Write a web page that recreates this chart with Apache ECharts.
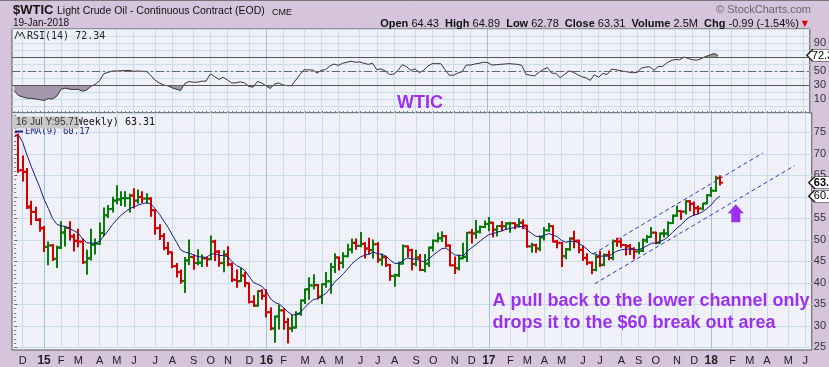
<!DOCTYPE html>
<html><head><meta charset="utf-8">
<script src="https://cdn.jsdelivr.net/npm/echarts@6/dist/echarts.min.js"></script>
<style>html,body{margin:0;padding:0;background:#d5c4db;}#c{width:829px;height:367px;}</style>
</head><body><div id="c"></div>
<script>
// Weekly bars, index 1 = week ending 28-Nov-2014, index 165 = week ending 19-Jan-2018
const opens = [74.3,66.2,65.8,57.5,56.5,54.6,52.7,48.4,48.7,45.6,
48.2,51.7,52.8,50.8,49.8,49.6,44.8,45.7,48.9,49.1,
51.6,55.7,57.2,59.1,59.4,59.7,59.7,60.3,59.1,60.0,
59.6,59.6,56.9,52.7,50.9,48.1,47.1,43.9,42.5,40.4,
45.2,46.0,44.6,44.7,45.7,45.5,49.6,47.3,44.6,46.6,
44.3,40.7,40.4,41.7,39.9,35.6,34.7,38.1,37.0,33.2,
29.4,32.2,33.6,30.9,29.4,29.6,32.8,35.9,38.5,39.4,
39.5,36.8,39.7,40.4,43.7,45.9,44.7,46.2,47.8,49.3,
48.6,49.1,48.0,47.6,49.0,45.4,46.0,44.2,41.6,41.8,
44.5,48.5,47.6,44.4,45.9,43.0,44.5,48.2,49.8,50.4,
50.9,48.7,44.1,43.4,45.7,46.1,51.7,51.5,51.9,53.0,
53.7,54.0,52.4,53.2,53.2,53.8,53.9,53.4,54.0,53.3,
48.5,48.8,48.0,50.6,52.2,53.2,49.6,49.3,46.2,47.8,
50.3,49.8,47.7,45.8,44.7,43.0,46.0,44.2,46.5,45.8,
49.7,49.6,48.8,48.5,47.9,47.3,47.5,49.9,50.7,51.7,
49.3,51.5,51.5,53.9,55.6,56.7,56.6,59.0,58.4,57.4,
57.3,58.5,60.4,61.4,64.43];
const highs = [74.6,69.5,66.6,59.0,57.6,55.0,53.1,49.5,48.9,48.5,
54.2,53.0,54.2,51.3,52.5,50.2,47.6,52.5,50.2,53.9,
57.4,58.0,59.9,62.6,61.2,61.2,60.6,61.9,61.6,61.2,
60.7,59.8,57.0,53.5,51.5,49.4,47.2,44.5,43.0,45.9,
50.0,46.5,47.7,46.5,46.0,50.9,49.9,47.5,47.5,48.4,
44.6,43.0,43.4,42.5,40.0,37.0,38.2,38.4,38.4,34.2,
32.3,34.8,34.0,31.7,32.4,33.3,36.0,38.6,41.2,41.9,
39.6,39.8,42.4,44.5,46.8,46.0,47.0,49.0,50.2,50.2,
51.7,49.4,50.4,50.0,49.4,46.7,46.2,44.3,42.0,44.8,
48.8,48.6,47.8,47.6,46.6,46.6,48.3,50.0,51.6,51.9,
51.0,48.8,46.0,46.5,49.2,51.7,52.4,54.5,53.2,54.4,
55.2,54.1,53.3,54.3,54.0,54.1,54.0,54.9,54.6,53.4,
49.2,49.0,50.9,52.9,53.8,53.3,49.9,49.4,48.0,50.5,
52.0,50.0,48.6,46.8,44.9,46.4,47.3,46.7,47.4,50.0,
50.4,50.2,48.9,48.9,48.2,49.4,50.2,51.0,52.9,51.8,
51.6,52.4,54.2,55.8,57.9,56.8,59.1,59.1,58.8,57.9,
58.5,60.5,62.2,64.8,64.89];
const lows = [65.7,63.7,57.3,53.6,54.5,52.0,47.3,44.2,45.2,43.6,
48.0,48.6,50.0,47.4,48.4,44.5,42.0,45.3,46.7,49.0,
51.0,55.2,56.5,58.4,58.0,57.8,56.5,57.4,58.5,58.7,
58.5,55.5,51.3,50.1,47.7,46.6,43.5,41.4,39.9,37.75,
44.3,43.2,44.2,43.8,43.9,45.4,45.2,43.9,42.6,44.0,
40.3,39.0,40.3,39.1,35.3,34.5,34.6,36.2,32.1,29.1,
26.2,29.3,29.2,26.05,28.7,29.5,32.5,35.2,36.2,38.6,
36.3,35.2,39.0,37.6,42.4,43.0,43.5,46.1,47.0,47.8,
48.4,45.8,46.7,45.8,44.8,44.1,43.8,40.6,39.2,41.5,
44.4,46.0,43.0,44.0,42.9,42.6,43.8,47.4,49.5,49.6,
48.4,44.0,42.2,43.0,45.6,45.0,49.3,50.3,51.6,52.9,
52.1,50.7,50.9,52.1,52.4,51.8,52.6,53.0,52.6,48.3,
47.1,47.1,47.5,50.0,52.0,49.5,48.2,43.8,45.6,47.6,
48.2,47.0,45.2,44.2,42.1,42.8,43.8,44.0,45.4,45.4,
48.5,48.3,46.5,46.6,45.6,46.8,47.3,49.4,50.6,49.1,
49.2,50.7,51.0,53.8,55.5,54.8,56.0,56.8,55.8,56.1,
57.0,58.4,60.1,61.3,62.78];
const closes = [66.15,65.84,57.81,56.52,54.73,52.69,48.36,48.69,45.59,48.24,
51.69,52.78,50.81,49.76,49.61,44.84,45.72,48.87,49.14,51.64,
55.74,57.15,59.15,59.39,59.69,59.72,60.30,59.13,59.96,59.61,
59.63,56.93,52.74,50.89,48.14,47.12,43.87,42.50,40.45,45.22,
46.05,44.63,44.68,45.70,45.54,49.63,47.26,44.60,46.59,44.29,
40.74,40.39,41.71,39.97,35.62,34.73,38.10,37.04,33.16,29.42,
32.19,33.62,30.89,29.44,29.64,32.78,35.92,38.50,39.44,39.46,
36.79,39.72,40.36,43.73,45.92,44.66,46.21,47.75,49.33,48.62,
49.07,47.98,47.64,48.99,45.41,45.95,44.19,41.60,41.80,44.49,
48.52,47.64,44.44,45.88,43.03,44.48,48.24,49.81,50.35,50.85,
48.70,44.07,43.41,45.69,46.06,51.68,51.50,51.90,53.02,53.72,
53.99,52.37,53.22,53.17,53.83,53.86,53.40,53.99,53.33,48.49,
48.78,47.97,50.60,52.24,53.18,49.62,49.33,46.22,47.84,50.33,
49.80,47.66,45.83,44.74,43.01,46.04,44.23,46.54,45.77,49.71,
49.58,48.82,48.51,47.87,47.29,47.48,49.89,50.66,51.67,49.29,
51.45,51.47,53.90,55.64,56.74,56.55,58.95,58.36,57.36,57.30,
58.47,60.42,61.44,64.30,63.31];
const ema9 = [74.40,72.69,69.71,67.07,64.60,62.22,59.45,57.30,54.96,53.62,
53.23,53.14,52.67,52.09,51.59,50.24,49.34,49.24,49.22,49.71,
50.92,52.17,53.57,54.73,55.72,56.52,57.28,57.65,58.11,58.41,
58.65,58.31,57.20,55.94,54.38,52.93,51.12,49.40,47.61,47.13,
46.91,46.46,46.10,46.02,45.93,46.67,46.79,46.35,46.40,45.98,
44.93,44.02,43.56,42.84,41.39,40.06,39.67,39.15,37.95,36.24,
35.43,35.07,34.24,33.28,32.55,32.60,33.26,34.31,35.34,36.16,
36.29,36.97,37.65,38.87,40.28,41.15,42.16,43.28,44.49,45.31,
46.06,46.45,46.69,47.15,46.80,46.63,46.14,45.23,44.54,44.53,
45.32,45.79,45.52,45.59,45.08,44.96,45.62,46.46,47.24,47.96,
48.11,47.30,46.52,46.36,46.30,47.38,48.20,48.94,49.75,50.54,
51.23,51.46,51.81,52.08,52.43,52.71,52.85,53.08,53.13,52.20,
51.52,50.81,50.77,51.07,51.49,51.11,50.76,49.85,49.45,49.63,
49.66,49.26,48.58,47.81,46.85,46.69,46.20,46.27,46.17,46.88,
47.42,47.70,47.86,47.86,47.75,47.70,48.14,48.64,49.24,49.25,
49.69,50.04,50.81,51.78,52.77,53.53,54.61,55.36,55.76,56.07,
56.55,57.32,58.15,59.38,60.17];
// RSI(14), index 0 = week ending 21-Nov-2014
const rsi14 = [22,15,13,11,11,10,9,8,10.5,10,
14,24,25.5,24,23.5,24,21,23,28,31,
36,46,48,50,50,50.5,50.5,51,49.5,50,
49.5,49.5,44,37,33,30,29,26,24,22,
32,35,34,34,35.5,35.5,46,42,38,41,
37,33,33,34.5,33,28,27,35,33,29,
25,31,33,30,29,29,37,45,52,51.5,
51.5,47,51,52,57,60,58,61,62.5,64,
62.5,63,61,59.5,61,52,53,50,45,45.5,
51,59,56,51,53,47.5,51,57,60.5,60.5,
60.5,52,44,44,47,49,58.5,58.5,60,61,
62.5,62,58.5,59,59.5,60,60.5,60,59.5,58,
45,44,43,48,52,55,47,46.5,40.5,45,
50,48.5,45,42,40.5,36.5,44.5,41,46.5,45,
52.5,52,50.5,49.5,48.5,47.5,48,54,55.5,56,
51,56.5,56.5,61.5,65,66.5,66,70,68,66,
65.5,67.5,70.5,72.5,75,72.34];
// Month tick positions (week index) and labels
const monthIdx = [2,7,11,15,20,24,28,33,37,42,46,50,55,59,63,68,72,76,81,85,89,94,98,103,107,111,116,120,124,128,133,137,142,146,150,155,159,163,168,172,176,181,185];
const monthLabels = ['D','15','F','M','A','M','J','J','A','S','O','N','D','16','F','M','A','M','J','J','A','S','O','N','D','17','F','M','A','M','J','J','A','S','O','N','D','18','F','M','A','M','J'];
const priceTicks = [25,30,35,40,45,50,55,60,65,70,75];
const rsiLabels = [10,30,50,70,90];
// Hand-drawn channel lines [week index, price]
const upperChannel = [[135.4,46.75],[175.05,70.2]];
const lowerChannel = [[135.8,39.83],[182.5,67.27]];

const PURPLE = '#9b30f0';
const GRIDC = '#c9dde8', YEARC = '#9fc2d6';
const lineColors = monthLabels.map(l => /\d/.test(l) ? YEARC : GRIDC);
const minorPrice = []; for (let v = 25; v <= 79; v++) minorPrice.push(v);
const weekTicks = []; for (let v = 0; v <= 186; v++) weekTicks.push(v);

const ohlc = closes.map((c, i) => [i + 1, opens[i], highs[i], lows[i], c, i > 0 && c >= closes[i - 1] ? 1 : 0]);

function tag(coord, text, bold) {
  return {
    coord: coord, symbol: 'path://M0,6 L6,0 L44,0 L44,12 L6,12 Z', symbolSize: [44, 12], symbolOffset: [19, 0],
    itemStyle: {color: '#fff', borderColor: '#222', borderWidth: 1},
    label: {show: true, position: [6, 1], formatter: text, fontSize: 11, fontWeight: bold ? 'bold' : 'normal',
      color: '#000', fontFamily: 'Liberation Sans'}
  };
}

const xCommon = {type: 'value', min: -0.5, max: 186.5, axisLine: {show: false},
  axisTick: {show: false, customValues: monthIdx},
  splitLine: {show: true, lineStyle: {color: lineColors, width: 1}}};

const chart = echarts.init(document.getElementById('c'));
chart.setOption({
  animation: false,
  backgroundColor: '#d5c4db',
  grid: [
    {left: 12, top: 29, width: 800, height: 84, show: true, backgroundColor: '#eff0f8', borderColor: '#555', borderWidth: 1},
    {left: 12, top: 113, width: 800, height: 239, show: true, backgroundColor: '#eff0f8', borderColor: '#555', borderWidth: 1}
  ],
  xAxis: [
    Object.assign({gridIndex: 0, axisLabel: {show: false}}, xCommon),
    Object.assign({gridIndex: 1, axisLabel: {show: true, customValues: monthIdx, margin: 5, fontSize: 11, color: '#222',
      fontFamily: 'Liberation Sans',
      formatter: v => { const t = monthLabels[monthIdx.indexOf(v)]; return /\d/.test(t) ? '{y|' + t + '}' : t; },
      rich: {y: {fontWeight: 'bold', fontSize: 12, fontFamily: 'Liberation Sans', color: '#222'}}}}, xCommon),
    {type: 'value', gridIndex: 1, min: -0.5, max: 186.5, axisLine: {show: false}, axisLabel: {show: false}, splitLine: {show: false},
      axisTick: {show: true, customValues: weekTicks, length: 2, inside: false, lineStyle: {color: '#777'}}}
  ],
  yAxis: [
    {type: 'value', gridIndex: 0, position: 'right', min: -10, max: 110, interval: 10,
      axisLine: {show: false}, axisTick: {show: false},
      axisLabel: {margin: 4, fontSize: 11, color: '#333', fontFamily: 'Liberation Sans',
        formatter: v => rsiLabels.indexOf(v) >= 0 ? String(v) : ''},
      splitLine: {show: true, lineStyle: {color: GRIDC}}},
    {type: 'value', gridIndex: 1, position: 'right', min: 24.4, max: 79.5,
      axisLine: {show: false},
      axisTick: {show: true, length: 3, customValues: priceTicks, lineStyle: {color: '#555'}},
      axisLabel: {margin: 2, fontSize: 11, color: '#333', fontFamily: 'Liberation Sans', customValues: priceTicks},
      splitLine: {show: true, lineStyle: {color: GRIDC}}},
    {type: 'value', gridIndex: 1, position: 'right', min: 24.4, max: 79.5,
      axisLine: {show: false}, axisLabel: {show: false}, splitLine: {show: false},
      axisTick: {show: true, length: 2, customValues: minorPrice, lineStyle: {color: '#777'}}}
  ],
  visualMap: {show: false, type: 'piecewise', seriesIndex: 4, dimension: 1,
    pieces: [{lt: 30, color: '#a696ad'}, {gte: 30, lte: 70, color: 'rgba(255,255,255,0)'}, {gt: 70, color: '#999999'}]},
  series: [
    {type: 'custom', xAxisIndex: 1, yAxisIndex: 1, data: ohlc, z: 3,
      renderItem: (params, api) => {
        const x = api.value(0);
        const pH = api.coord([x, api.value(2)]), pL = api.coord([x, api.value(3)]);
        const pO = api.coord([x, api.value(1)]), pC = api.coord([x, api.value(4)]);
        const cx = Math.round(pH[0]);
        const col = api.value(5) ? '#0a7a0a' : '#d40000';
        const st = {stroke: col, lineWidth: 2};
        return {type: 'group', children: [
          {type: 'line', shape: {x1: cx, y1: pH[1] - 0.5, x2: cx, y2: pL[1] + 0.5}, style: st},
          {type: 'line', shape: {x1: cx - 3, y1: pO[1], x2: cx, y2: pO[1]}, style: st},
          {type: 'line', shape: {x1: cx, y1: pC[1], x2: cx + 3, y2: pC[1]}, style: st}
        ]};
      },
      markPoint: {silent: true, data: [tag([186.5, closes[closes.length - 1]], closes[closes.length - 1].toFixed(2), true)]}
    },
    {type: 'line', xAxisIndex: 1, yAxisIndex: 1, data: ema9.map((v, i) => [i + 1, v]), symbol: 'none', z: 4,
      lineStyle: {color: '#1c1c80', width: 1}, silent: true,
      markPoint: {silent: true, data: [
        tag([186.5, ema9[ema9.length - 1]], ema9[ema9.length - 1].toFixed(2), false),
        {coord: [168.74, 56.2], symbol: 'path://M8,0 L16,9 L12.5,9 L12.5,18 L3.5,18 L3.5,9 L0,9 Z', symbolSize: [16, 18],
          itemStyle: {color: PURPLE}, label: {show: false}}
      ]}},
    {type: 'line', xAxisIndex: 1, yAxisIndex: 1, data: upperChannel, symbol: 'none', silent: true, z: 2,
      lineStyle: {color: '#3333cc', width: 1, type: [4, 3]}},
    {type: 'line', xAxisIndex: 1, yAxisIndex: 1, data: lowerChannel, symbol: 'none', silent: true, z: 2,
      lineStyle: {color: '#3333cc', width: 1, type: [4, 3]}},
    {type: 'line', xAxisIndex: 0, yAxisIndex: 0, data: rsi14.map((v, i) => [i, v]), symbol: 'none', silent: true, z: 2,
      lineStyle: {width: 0}, areaStyle: {origin: 30, opacity: 1}},
    {type: 'line', xAxisIndex: 0, yAxisIndex: 0, data: rsi14.map((v, i) => [i, v]), symbol: 'none', silent: true, z: 3,
      lineStyle: {color: '#333', width: 1},
      markLine: {silent: true, symbol: 'none', label: {show: false},
        data: [
          {yAxis: 70, lineStyle: {color: '#555', width: 1, type: 'solid'}},
          {yAxis: 30, lineStyle: {color: '#555', width: 1, type: 'solid'}},
          {yAxis: 50, lineStyle: {color: '#666', width: 1, type: [8, 3, 2, 3]}}
        ]},
      markPoint: {silent: true, data: [tag([186.5, rsi14[rsi14.length - 1]], rsi14[rsi14.length - 1].toFixed(2), false)]}}
  ],
  graphic: [
    {type: 'line', shape: {x1: 0, y1: 0.5, x2: 829, y2: 0.5}, style: {stroke: '#777', lineWidth: 1}, z: 100},
    {type: 'text', left: 13, top: 4, z: 100, style: {text: '$WTIC', font: 'bold 13px "Liberation Sans"', fill: '#111'}},
    {type: 'text', left: 57, top: 6, z: 100, style: {text: 'Light Crude Oil - Continuous Contract (EOD)', font: '10.5px "Liberation Sans"', fill: '#111'}},
    {type: 'text', left: 272, top: 8, z: 100, style: {text: 'CME', font: '9px "Liberation Sans"', fill: '#111'}},
    {type: 'text', left: 13, top: 18, z: 100, style: {text: '19-Jan-2018', font: '10px "Liberation Sans"', fill: '#111'}},
    {type: 'text', right: 18, top: 4, z: 100, style: {text: '\u00a9 StockCharts.com', font: '11px "Liberation Sans"', fill: '#666'}},
    {type: 'text', right: 21, top: 18, z: 100, style: {
      text: '{b|Open} 64.43  {b|High} 64.89  {b|Low} 62.78  {b|Close} 63.31  {b|Volume} 2.5M  {b|Chg} -0.99 (-1.54%) {t|\u25bc}',
      font: '11px "Liberation Sans"', fill: '#111',
      rich: {b: {font: 'bold 11px "Liberation Sans"', fill: '#111'}, t: {font: '8px "DejaVu Sans"', fill: '#d00'}}}},
    {type: 'polyline', z: 100, shape: {points: [[15, 39], [17.5, 31.5], [20, 36], [22, 32], [25, 39]]}, style: {stroke: '#333', lineWidth: 1, fill: null}},
    {type: 'text', left: 27, top: 31, z: 100, style: {text: 'RSI(14) 72.34', font: '10px "DejaVu Sans Mono"', fill: '#222'}},
    {type: 'text', left: 397, top: 94, z: 100, style: {text: 'WTIC', font: 'bold 18px "Liberation Sans"', fill: PURPLE}},
    {type: 'text', right: 674, top: 117, z: 100, style: {text: '$WTIC (Weekly) 63.31', font: '10px "DejaVu Sans Mono"', fill: '#111'}},
    {type: 'line', z: 100, shape: {x1: 15, y1: 131.5, x2: 23, y2: 131.5}, style: {stroke: '#1c1c80', lineWidth: 2}},
    {type: 'text', left: 25, top: 127, z: 100, style: {text: 'EMA(9) 60.17', font: '9px "DejaVu Sans Mono"', fill: '#1c1c80'}},
    {type: 'rect', z: 101, shape: {x: 12, y: 116.5, width: 67, height: 12}, style: {fill: '#c8c8c8'}},
    {type: 'text', left: 16, top: 117.5, z: 102, style: {text: '16 Jul Y:95.71', font: '10px "Liberation Sans"', fill: '#333'}},
    {type: 'text', left: 492.5, top: 292, z: 100, style: {text: 'A pull back to the lower channel only', font: 'bold 18px "Liberation Sans"', fill: PURPLE}},
    {type: 'text', left: 492.5, top: 314, z: 100, style: {text: 'drops it to the $60 break out area', font: 'bold 18px "Liberation Sans"', fill: PURPLE}}
  ]
});
</script></body></html>
